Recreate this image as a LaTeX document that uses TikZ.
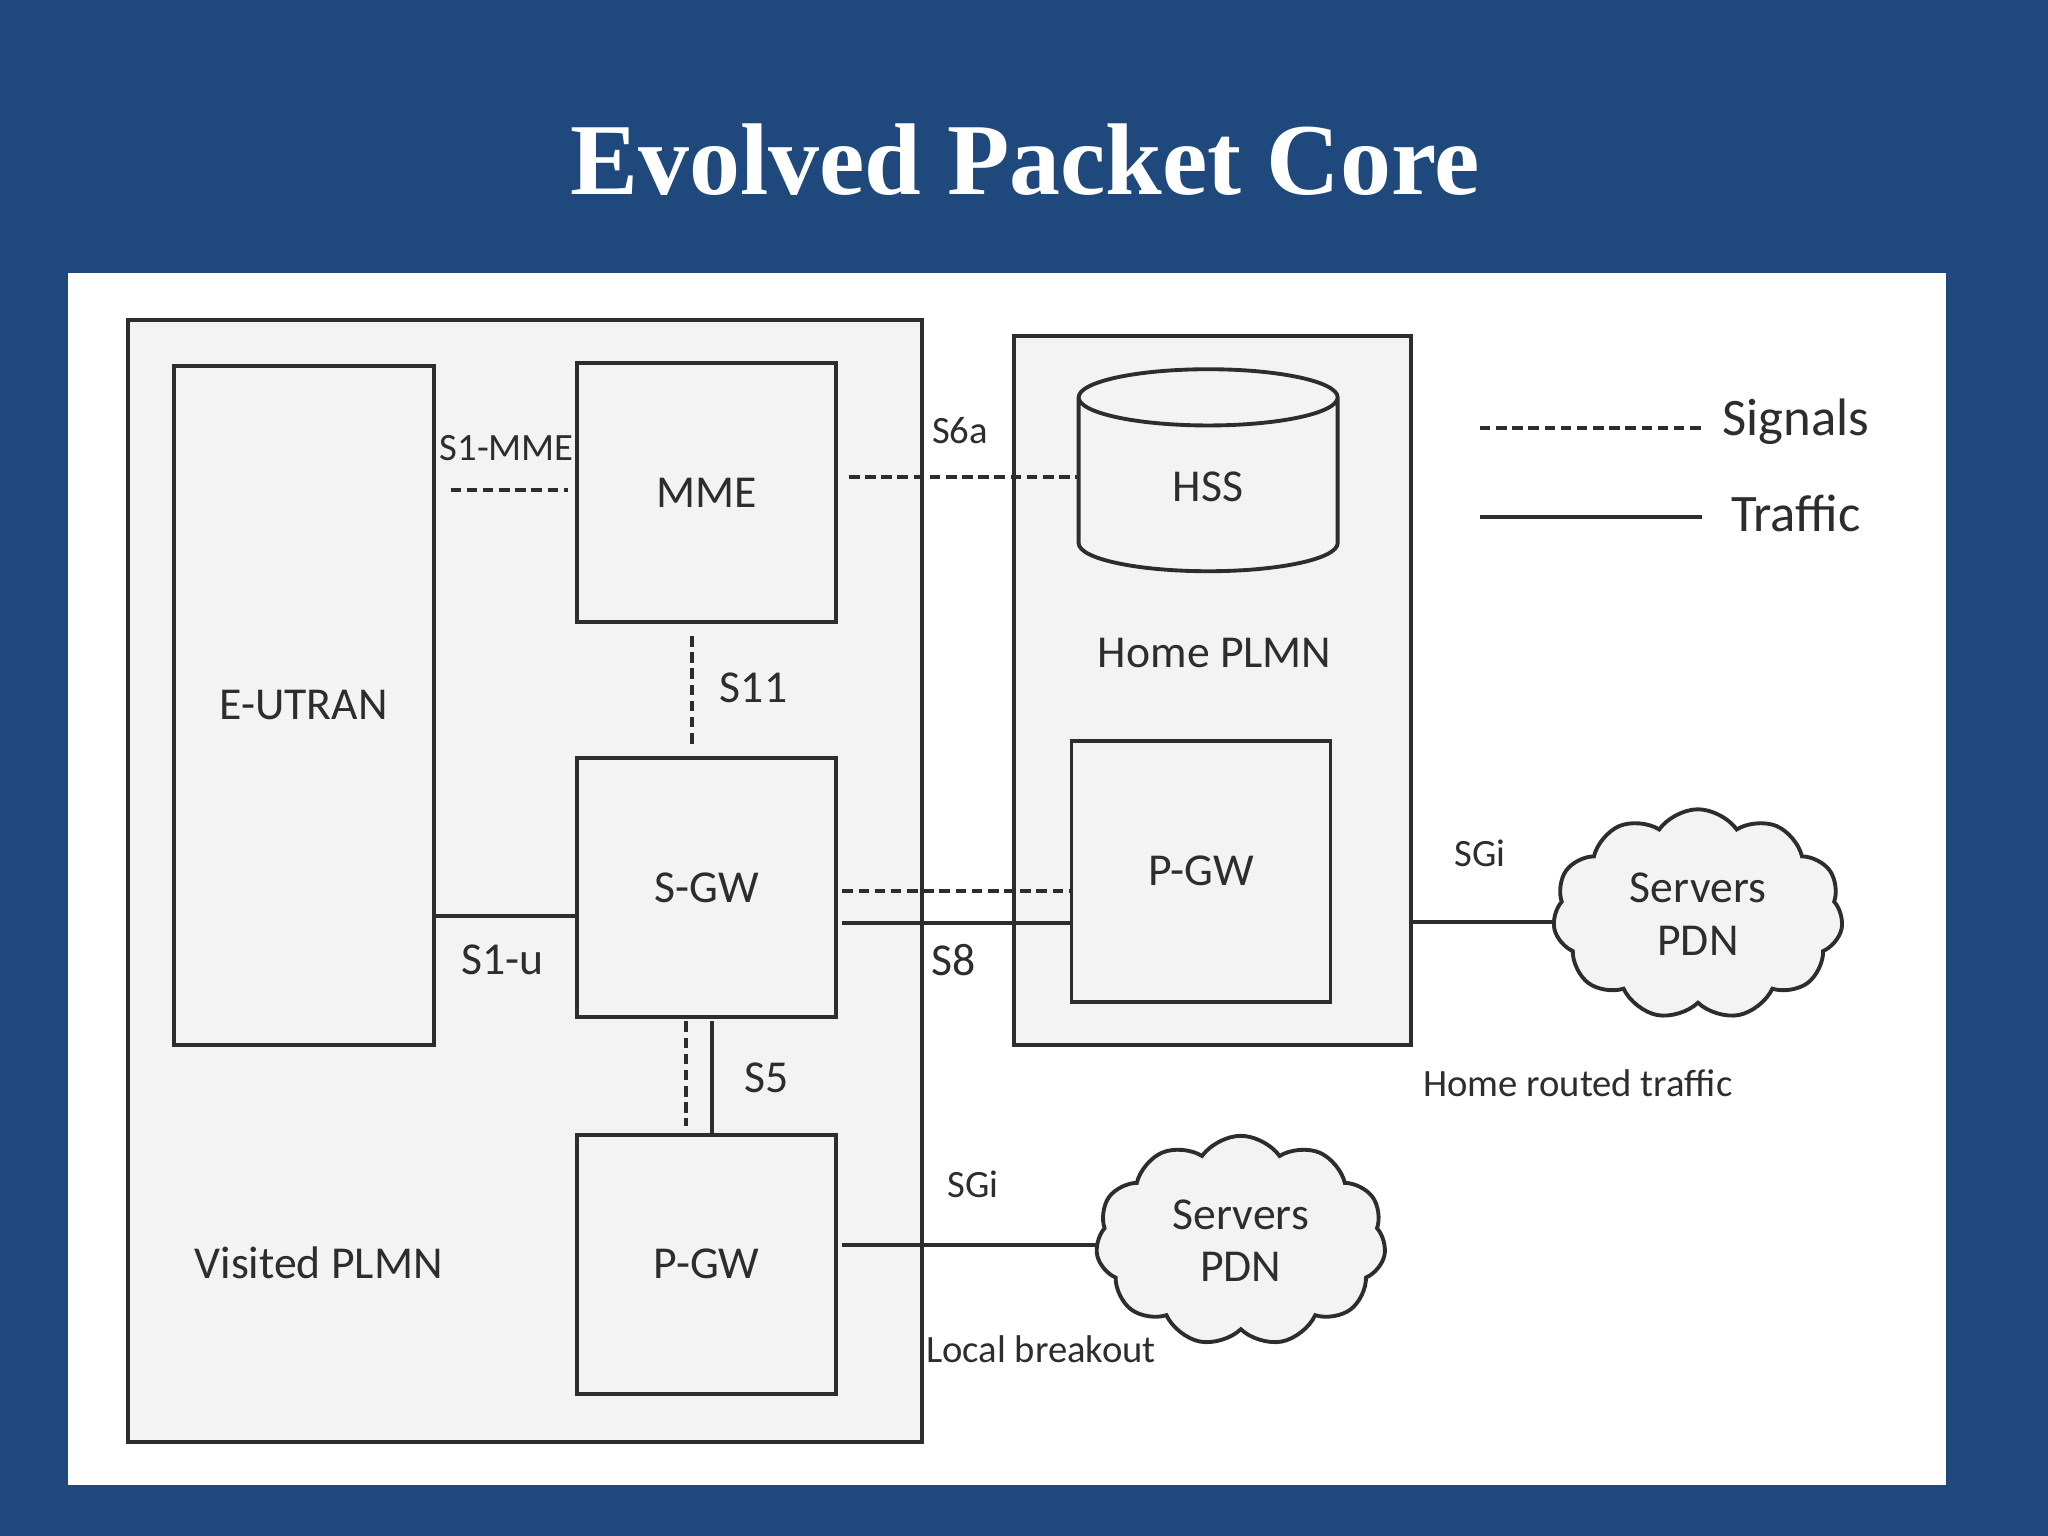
\documentclass[tikz,border=0pt]{standalone}
\usepackage{fontspec}
\setmainfont{Carlito}
\newfontfamily\titlefont{Liberation Serif}
\usetikzlibrary{positioning,shapes.geometric,shapes.symbols}
\definecolor{slideblue}{RGB}{31,73,125}
\definecolor{boxgray}{RGB}{243,243,243}
\definecolor{edgegray}{RGB}{45,45,45}

\begin{document}
\begin{tikzpicture}[x=0.01306cm, y=-0.01306cm, every node/.style={font=\fontsize{13}{15}\selectfont, align=center, text=edgegray}, box/.style={rectangle, draw=edgegray, line width=1.1pt, fill=boxgray, inner sep=0pt}, entity/.style={box, minimum width=2.59cm, minimum height=2.59cm}, signal/.style={draw=edgegray, line width=1.1pt, dash pattern=on 3pt off 1.6pt}, traffic/.style={draw=edgegray, line width=1.1pt}, lbl/.style={font=\fontsize{11}{13}\selectfont}, pdn/.style={cloud, cloud puffs=11, cloud puff arc=110, aspect=1.4, draw=edgegray, line width=1.1pt, fill=boxgray, minimum width=2.9cm, minimum height=2.1cm}]
\useasboundingbox (0,0) rectangle (1568,1176);
\fill[slideblue] (0,0) rectangle (1568,1176);
\fill[white] (52,209) rectangle (1490,1137);
\node[text=white, font=\titlefont\bfseries\fontsize{29}{32}\selectfont] (title) at (785,122) {Evolved Packet Core};

% networks
\node[box, minimum width=7.94cm, minimum height=11.22cm] (visited) at (402,674.5) {};
\node[box, minimum width=3.97cm, minimum height=7.09cm] (home) at (928,528.5) {};
\node (visitedlbl) at (244,967) {Visited PLMN};
\node (homelbl) at (930,500) {Home PLMN};

% entities
\node[box, minimum width=2.6cm, minimum height=6.79cm] (eutran) at (232.5,540) {E-UTRAN};
\node[entity] (mme) at (541,377) {MME};
\node[entity] (sgw) at (541,679.5) {S-GW};
\node[entity] (pgwv) at (541,968) {P-GW};
\node[entity, minimum height=2.61cm] (pgwh) at (919.5,667) {P-GW};
\node[cylinder, shape border rotate=90, aspect=2.4, draw=edgegray, line width=1.1pt, fill=boxgray, minimum width=2.59cm, minimum height=2.02cm] (hss) at (925,376) {};
\node (hsslbl) at (925,373) {HSS};
\node[pdn] (pdnh) at (1300,700) {Servers\\PDN};
\node[pdn] (pdnv) at (950,950) {Servers\\PDN};

% interfaces
\coordinate (s1a) at (345,375);
\coordinate (s1b) at (435,375);
\draw[signal] (s1a) -- (s1b);
\node[lbl] (s1mme) at (388,343) {S1-MME};
\coordinate (s6a) at (650,365);
\draw[signal] (s6a) -- (hss.west |- s6a);
\node[lbl] (s6albl) at (735,330) {S6a};
\coordinate (s11a) at (530,487);
\coordinate (s11b) at (530,570);
\draw[signal] (s11a) -- (s11b);
\node (s11lbl) at (577,527) {S11};
\draw[traffic] (eutran.east |- 0,701) -- (sgw.west |- 0,701);
\node (s1u) at (385,735) {S1-u};
\coordinate (s8a) at (645,682);
\coordinate (s8b) at (645,707);
\draw[signal] (s8a) -- (pgwh.west |- s8a);
\draw[traffic] (s8b) -- (pgwh.west |- s8b);
\node (s8) at (730,735) {S8};
\coordinate (s5a) at (525,782);
\coordinate (s5b) at (525,862);
\coordinate (s5c) at (545,782);
\draw[signal] (s5a) -- (s5b);
\draw[traffic] (s5c) -- (pgwv.north -| s5c);
\node (s5) at (587,825) {S5};
\draw[traffic] (home.east |- 0,706) -- (pdnh.west |- 0,706);
\node[lbl] (sgih) at (1133,653) {SGi};
\coordinate (sgiv0) at (645,953);
\draw[traffic] (sgiv0) -- (pdnv.west |- sgiv0);
\node[lbl] (sgiv) at (745,907) {SGi};
\node[lbl] (breakout) at (797,1033) {Local breakout};
\node[lbl] (routed) at (1208,829) {Home routed traffic};

% legend
\coordinate (lega) at (1133,328);
\coordinate (legb) at (1303,328);
\draw[signal] (lega) -- (legb);
\node[font=\fontsize{15}{17}\selectfont] (signals) at (1375,323) {Signals};
\coordinate (legc) at (1133,396);
\coordinate (legd) at (1303,396);
\draw[traffic] (legc) -- (legd);
\node[font=\fontsize{15}{17}\selectfont] (trafficlbl) at (1375,393) {Traffic};
\end{tikzpicture}
\end{document}
